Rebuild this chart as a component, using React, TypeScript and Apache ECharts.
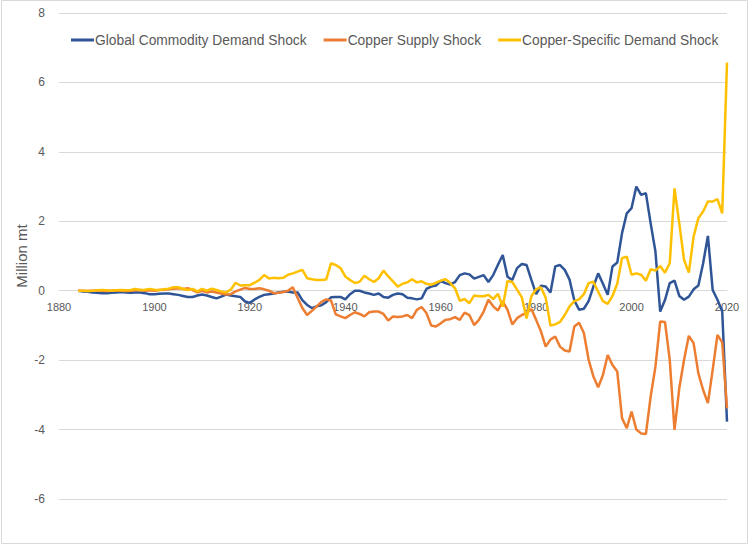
import React, { useEffect, useRef } from "react";
import * as echarts from "echarts";

const startYear = 1884;
const endYear = 2020;
const years: number[] = [];
for (let y = startYear; y <= endYear; y++) years.push(y);

const globalDemand = [
  0.0, -0.02, -0.03, -0.05, -0.06, -0.07, -0.07, -0.06, -0.05, -0.04,
  -0.05, -0.06, -0.05, -0.05, -0.07, -0.1, -0.1, -0.09, -0.08, -0.08,
  -0.1, -0.12, -0.15, -0.18, -0.18, -0.14, -0.11, -0.14, -0.18, -0.22,
  -0.17, -0.11, -0.14, -0.16, -0.18, -0.31, -0.35, -0.25, -0.18, -0.12,
  -0.1, -0.08, -0.05, -0.03, -0.02, -0.05, -0.05, -0.27, -0.41, -0.5,
  -0.45, -0.42, -0.33, -0.19, -0.18, -0.18, -0.25, -0.1, 0.0, 0.0,
  -0.05, -0.08, -0.12, -0.08, -0.18, -0.2, -0.12, -0.08, -0.1, -0.2,
  -0.22, -0.25, -0.22, 0.05, 0.12, 0.15, 0.28, 0.22, 0.18, 0.25,
  0.45, 0.5, 0.47, 0.35, 0.4, 0.45, 0.25, 0.45, 0.75, 1.03,
  0.4, 0.31, 0.65, 0.77, 0.74, 0.31, -0.1, 0.14, 0.12, -0.05,
  0.7, 0.74, 0.6, 0.32, -0.28, -0.55, -0.52, -0.3, 0.12, 0.5,
  0.2, -0.12, 0.7, 0.81, 1.66, 2.23, 2.38, 3.0, 2.76, 2.81,
  1.94, 1.13, -0.6, -0.27, 0.22, 0.29, -0.15, -0.26, -0.17, 0.04,
  0.15, 0.79, 1.58, 0.02, -0.26, -0.6, -3.77,
];

const copperSupply = [
  0.0, 0.0, -0.01, 0.0, 0.01, 0.0, -0.01, 0.0, 0.01, 0.0,
  -0.01, 0.0, 0.01, 0.02, 0.0, 0.01, 0.0, 0.02, 0.03, 0.04,
  0.06, 0.07, 0.05, 0.07, 0.02, -0.05, 0.0, -0.05, -0.02, -0.05,
  -0.08, -0.11, -0.1, -0.02, 0.03, 0.08, 0.05, 0.05, 0.07, 0.04,
  0.0, -0.07, -0.06, -0.04, 0.0, 0.1, -0.2, -0.5, -0.7, -0.58,
  -0.45, -0.32, -0.25, -0.28, -0.68, -0.74, -0.79, -0.7, -0.62, -0.67,
  -0.74, -0.62, -0.6, -0.6, -0.67, -0.86, -0.74, -0.76, -0.74, -0.7,
  -0.79, -0.55, -0.47, -0.64, -1.0, -1.03, -0.94, -0.84, -0.82, -0.76,
  -0.84, -0.63, -0.7, -0.99, -0.84, -0.6, -0.26, -0.45, -0.57, -0.3,
  -0.55, -0.97, -0.79, -0.7, -0.64, -0.53, -0.84, -1.17, -1.61, -1.41,
  -1.32, -1.61, -1.72, -1.75, -1.03, -0.92, -1.22, -1.99, -2.47, -2.78,
  -2.43, -1.85, -2.14, -2.33, -3.67, -3.96, -3.48, -4.0, -4.11, -4.13,
  -3.05, -2.19, -0.89, -0.9, -1.99, -4.01, -2.81, -1.99, -1.3, -1.51,
  -2.38, -2.86, -3.24, -2.28, -1.27, -1.49, -3.39,
];

const copperSpecificDemand = [
  0.0, 0.0, -0.01, 0.0, 0.01, 0.02, 0.01, 0.0, 0.01, 0.02,
  0.01, 0.02, 0.05, 0.02, 0.03, 0.05, 0.03, 0.02, 0.04, 0.06,
  0.1, 0.1, 0.05, 0.02, 0.05, -0.02, 0.05, 0.0, 0.06, 0.02,
  -0.02, -0.05, 0.03, 0.23, 0.15, 0.16, 0.16, 0.23, 0.31, 0.45,
  0.35, 0.37, 0.36, 0.37, 0.46, 0.5, 0.55, 0.6, 0.36, 0.33,
  0.31, 0.31, 0.32, 0.79, 0.74, 0.65, 0.41, 0.31, 0.22, 0.26,
  0.43, 0.33, 0.25, 0.36, 0.58, 0.41, 0.27, 0.12, 0.2, 0.24,
  0.33, 0.24, 0.27, 0.2, 0.17, 0.23, 0.29, 0.33, 0.22, 0.07,
  -0.29, -0.24, -0.36, -0.14, -0.16, -0.16, -0.12, -0.24, -0.09, -0.46,
  0.28, 0.25, 0.03, -0.19, -0.8, -0.16, 0.04, 0.1, -0.2, -1.0,
  -0.97, -0.9, -0.7, -0.45, -0.3, -0.25, -0.1, 0.22, 0.26, -0.03,
  -0.3, -0.38, -0.15, 0.2, 0.94, 0.98, 0.46, 0.5, 0.46, 0.29,
  0.62, 0.58, 0.71, 0.52, 0.79, 2.95, 1.94, 0.89, 0.52, 1.56,
  2.09, 2.28, 2.57, 2.57, 2.64, 2.23, 6.57,
];

const seriesNames = [
  "Global Commodity Demand Shock",
  "Copper Supply Shock",
  "Copper-Specific Demand Shock",
];
const seriesColors = ["#2F5597", "#ED7D31", "#FFC000"];
const seriesValues = [globalDemand, copperSupply, copperSpecificDemand];

const xMin = 1880;
const xMax = 2020;
const xInterval = 20;
const yMin = -6;
const yMax = 8;
const yInterval = 2;
const yAxisTitle = "Million mt";

const FONT = "'Liberation Sans', Arial, sans-serif";

const GRID_TOP = 13;
const GRID_BOTTOM = 46;
const CHART_H = 545;

export default function App() {
  const ref = useRef<HTMLDivElement>(null);
  useEffect(() => {
    if (!ref.current) return;
    const chart = echarts.init(ref.current, undefined, { renderer: "svg" });
    const gridH = CHART_H - GRID_TOP - GRID_BOTTOM;
    // place the x axis (and its labels) on the zero line of the value axis
    const zeroOffset = -(gridH * (0 - yMin)) / (yMax - yMin);
    chart.setOption({
      animation: false,
      backgroundColor: "#FFFFFF",
      textStyle: { fontFamily: FONT },
      grid: { left: 59, right: 23, top: GRID_TOP, bottom: GRID_BOTTOM, containLabel: false },
      legend: {
        top: 28,
        left: 66,
        itemWidth: 23,
        itemHeight: 3,
        itemGap: 17,
        icon: "rect",
        textStyle: { color: "#595959", fontSize: 13.8, fontFamily: FONT, padding: [0, 0, 0, -4] },
        data: seriesNames,
      },
      graphic: [
        {
          type: "rect",
          shape: { x: 1.5, y: 0.5, width: 746, height: 543 },
          style: { fill: "none", stroke: "#D9D9D9", lineWidth: 1 },
          silent: true,
        },
      ],
      xAxis: {
        type: "value",
        min: xMin,
        max: xMax,
        interval: xInterval,
        offset: zeroOffset,
        axisLine: {
          show: true,
          onZero: false,
          lineStyle: { color: "#D9D9D9", width: 1 },
        },
        axisTick: { show: false },
        splitLine: { show: false },
        axisLabel: {
          color: "#595959",
          fontSize: 11,
          margin: 11,
          fontFamily: FONT,
          formatter: (v: number) => String(v),
        },
      },
      yAxis: {
        type: "value",
        min: yMin,
        max: yMax,
        interval: yInterval,
        name: yAxisTitle,
        nameLocation: "middle",
        nameRotate: 90,
        nameGap: 30,
        nameMoveOverlap: false,
        nameTextStyle: { color: "#595959", fontSize: 15, fontFamily: FONT },
        axisLine: { show: false, onZero: false },
        axisTick: { show: false },
        splitLine: { lineStyle: { color: "#D9D9D9", width: 1 } },
        axisLabel: { color: "#595959", fontSize: 12, margin: 14, fontFamily: FONT },
      },
      series: seriesNames.map((name, i) => ({
        name,
        type: "line",
        showSymbol: false,
        symbol: "none",
        color: seriesColors[i],
        lineStyle: { width: 2.5, color: seriesColors[i] },
        data: years.map((yr, k) => [yr, seriesValues[i][k]]),
        z: 2 + i,
      })),
    });
    return () => chart.dispose();
  }, []);
  return (
    <div
      ref={ref}
      style={{ position: "fixed", left: 0, top: 0, width: 750, height: 545 }}
    />
  );
}
